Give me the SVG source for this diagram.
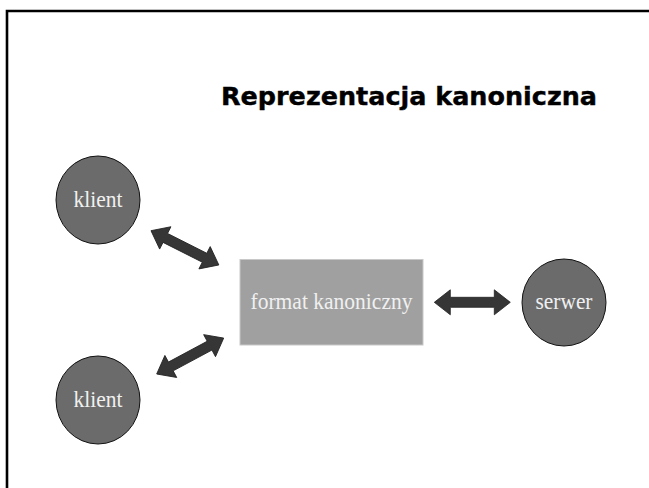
<svg xmlns="http://www.w3.org/2000/svg" xmlns:xlink="http://www.w3.org/1999/xlink" width="649" height="488" viewBox="0 0 649 488">
<style>
.node-c{fill:#6b6b6b;stroke:#111;stroke-width:1}
.lbl{font-family:"Liberation Serif","Times New Roman",serif;font-size:24px;fill:#f0f0f0;text-anchor:middle}
.title{font-family:"DejaVu Sans",Verdana,sans-serif;font-weight:bold;font-size:25.5px;fill:#000;stroke:#000;stroke-width:0.4}
.arr{fill:#363636;stroke:#222;stroke-width:0.8;stroke-linejoin:miter}
</style>
<defs>
<path id="dbl" d="M0,0 L16,-12.5 L16,-5 L60,-5 L60,-12.5 L76,0 L60,12.5 L60,5 L16,5 L16,12.5 Z"/>
</defs>
<rect x="0" y="0" width="649" height="488" fill="#fff"/>
<path d="M7,490 V11 H651" fill="none" stroke="#000" stroke-width="2.6"/>
<text class="title" x="221" y="104.5" textLength="376" lengthAdjust="spacingAndGlyphs">Reprezentacja kanoniczna</text>
<g id="connectors">
<use xlink:href="#dbl" class="arr" transform="translate(151,230.7) rotate(26.8)"/>
<use xlink:href="#dbl" class="arr" transform="translate(156.7,374) rotate(-28.2)"/>
<use xlink:href="#dbl" class="arr" transform="translate(434.3,302.3)"/>
</g>
<g id="klient1">
<ellipse class="node-c" cx="98" cy="200" rx="42" ry="44"/>
<text class="lbl" x="98" y="207" textLength="49" lengthAdjust="spacingAndGlyphs">klient</text>
</g>
<g id="klient2">
<ellipse class="node-c" cx="98" cy="400" rx="42" ry="44"/>
<text class="lbl" x="98" y="407" textLength="49" lengthAdjust="spacingAndGlyphs">klient</text>
</g>
<g id="format">
<rect x="240" y="259.5" width="183" height="85.5" fill="#a0a0a0" stroke="#c8c8c8" stroke-width="1"/>
<text class="lbl" x="331.5" y="309.3" textLength="162" lengthAdjust="spacingAndGlyphs">format kanoniczny</text>
</g>
<g id="serwer">
<ellipse class="node-c" cx="564" cy="302.5" rx="42" ry="43.5"/>
<text class="lbl" x="564" y="309.3" textLength="57" lengthAdjust="spacingAndGlyphs">serwer</text>
</g>
</svg>
